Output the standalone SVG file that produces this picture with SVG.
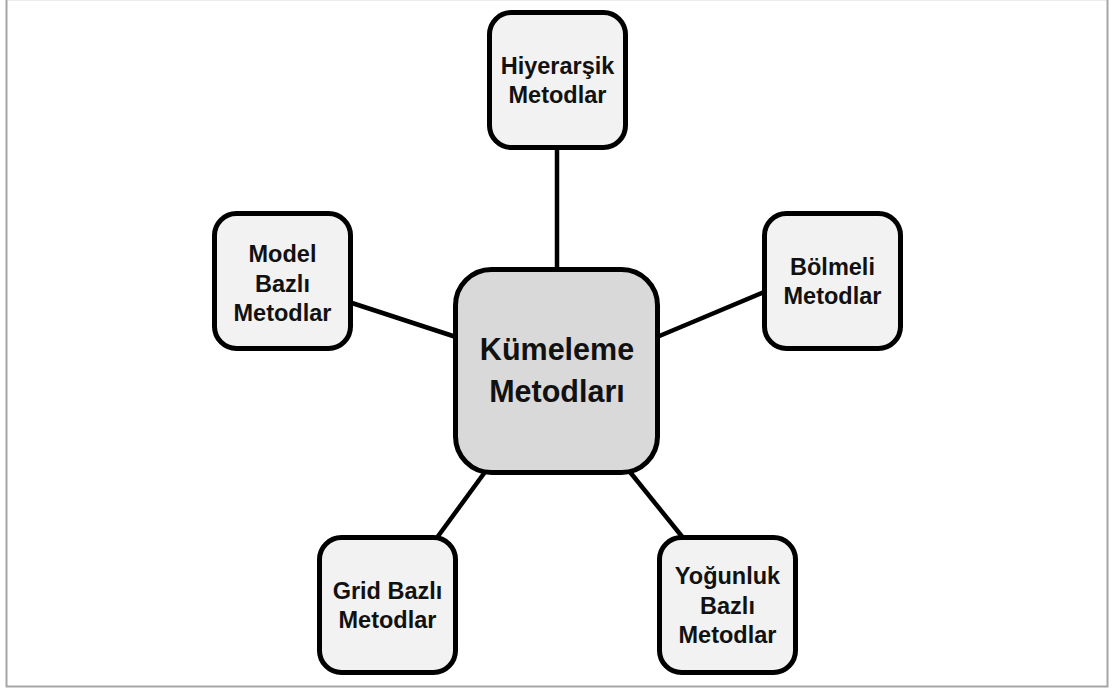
<svg xmlns="http://www.w3.org/2000/svg" width="1115" height="691" viewBox="0 0 1115 691">
  <style>
    .box { fill: #f2f2f2; stroke: #000; stroke-width: 5; }
    .hub { fill: #d9d9d9; stroke: #000; stroke-width: 5; }
    .lbl { font-family: "Liberation Sans", Arial, sans-serif; font-weight: bold; font-size: 23.5px; fill: #111; text-anchor: middle; }
    .hublbl { font-size: 30.5px; }
    .link { stroke: #000; stroke-width: 4.5; fill: none; }
  </style>
  <rect width="1115" height="691" fill="#fff"/>
  <!-- outer frame -->
  <line x1="6" y1="0.5" x2="1107" y2="0.5" stroke="#ececec" stroke-width="1"/>
  <path d="M6.5,0 V686.5 H1107.5 V0" fill="none" stroke="#a6a6a6" stroke-width="2"/>

  <g id="connectors">
    <line class="link" x1="557" y1="148" x2="557" y2="270"/>
    <line class="link" x1="352" y1="303" x2="456" y2="337"/>
    <line class="link" x1="657" y1="337" x2="764" y2="292"/>
    <line class="link" x1="485" y1="472" x2="436" y2="539"/>
    <line class="link" x1="630" y1="472" x2="684" y2="539"/>
  </g>

  <g id="hub">
    <rect class="hub" x="455.5" y="269.5" width="202" height="203" rx="36"/>
    <text class="lbl hublbl" x="557" y="360">Kümeleme</text>
    <text class="lbl hublbl" x="557" y="402">Metodları</text>
  </g>

  <g id="hiyerarsik">
    <rect class="box" x="489.5" y="12.5" width="136" height="135" rx="22"/>
    <text class="lbl" x="557.5" y="74">Hiyerarşik</text>
    <text class="lbl" x="557.5" y="103">Metodlar</text>
  </g>

  <g id="model">
    <rect class="box" x="214.5" y="213.5" width="136" height="135" rx="22"/>
    <text class="lbl" x="282.5" y="262">Model</text>
    <text class="lbl" x="282.5" y="292">Bazlı</text>
    <text class="lbl" x="282.5" y="321">Metodlar</text>
  </g>

  <g id="bolmeli">
    <rect class="box" x="764.5" y="213.5" width="136" height="135" rx="22"/>
    <text class="lbl" x="832.5" y="275">Bölmeli</text>
    <text class="lbl" x="832.5" y="304">Metodlar</text>
  </g>

  <g id="grid">
    <rect class="box" x="319.5" y="537.5" width="136" height="135" rx="22"/>
    <text class="lbl" x="387.5" y="599">Grid Bazlı</text>
    <text class="lbl" x="387.5" y="628">Metodlar</text>
  </g>

  <g id="yogunluk">
    <rect class="box" x="659.5" y="537.5" width="136" height="135" rx="22"/>
    <text class="lbl" x="727.5" y="584">Yoğunluk</text>
    <text class="lbl" x="727.5" y="614">Bazlı</text>
    <text class="lbl" x="727.5" y="643">Metodlar</text>
  </g>
</svg>
